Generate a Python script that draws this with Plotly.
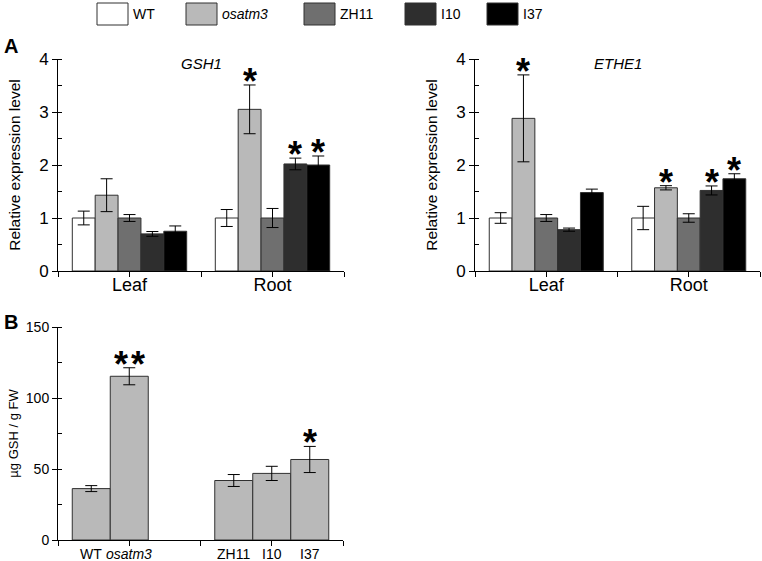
import plotly.graph_objects as go

# ---------------- data ----------------
genotypes = ["WT", "osatm3", "ZH11", "I10", "I37"]
italic_names = ["osatm3"]
colors = ["#ffffff", "#b9b9b9", "#6f6f6f", "#2e2e2e", "#000000"]
tissues = ["Leaf", "Root"]

gsh1_leaf = [1.00, 1.43, 1.00, 0.70, 0.75]
gsh1_leaf_err = [0.13, 0.31, 0.065, 0.045, 0.10]
gsh1_root = [1.00, 3.05, 1.00, 2.02, 2.00]
gsh1_root_err = [0.16, 0.46, 0.18, 0.11, 0.17]
gsh1_leaf_sig = ["", "", "", "", ""]
gsh1_root_sig = ["", "*", "", "*", "*"]

ethe1_leaf = [1.00, 2.88, 1.00, 0.78, 1.48]
ethe1_leaf_err = [0.10, 0.82, 0.065, 0.03, 0.065]
ethe1_root = [1.00, 1.57, 1.00, 1.52, 1.74]
ethe1_root_err = [0.22, 0.04, 0.08, 0.085, 0.095]
ethe1_leaf_sig = ["", "*", "", "", ""]
ethe1_root_sig = ["", "*", "", "*", "*"]

gsh_categories = ["osatm3 set", "RNAi set"]
gsh_groups = [["WT", "osatm3"], ["ZH11", "I10", "I37"]]
gsh_values = [[36.2, 115.3], [41.9, 46.9, 56.7]]
gsh_errors = [[2.1, 6.0], [4.2, 5.0, 9.2]]
gsh_sig = [["", "**"], ["", "", "*"]]

# ---------------- figure ----------------
FONT = "Liberation Sans, Arial, sans-serif"
W, H = 762, 561
BARGAP = 0.2
fig = go.Figure()
annotations = []
shapes = []


def px_x(v):
    return v / W


def px_y(v):
    return 1 - v / H


def slot_x(gi, si, n):
    w = (1 - BARGAP) / n
    return gi - (1 - BARGAP) / 2 + w * (si + 0.5)


def star(xref, yref, x, y, text):
    spaced = "\u200a".join(text)
    annotations.append(dict(x=x, y=y, xref=xref, yref=yref, text=f"<b>{spaced}</b>",
                            showarrow=False, yanchor="bottom", yshift=-19,
                            font=dict(family=FONT, size=36, color="black")))


def expr_panel(xa, ya, leaf, leaf_err, root, root_err, leaf_sig, root_sig):
    n = len(genotypes)
    for i, g in enumerate(genotypes):
        fig.add_trace(go.Bar(
            x=tissues, y=[leaf[i], root[i]], name=g, showlegend=False,
            xaxis=xa, yaxis=ya,
            marker=dict(color=colors[i], line=dict(color="#303030", width=1)),
            error_y=dict(type="data", array=[leaf_err[i], root_err[i]],
                         color="black", thickness=1, width=6)))
        for gi, (vals, errs, sig) in enumerate([(leaf, leaf_err, leaf_sig),
                                                (root, root_err, root_sig)]):
            if sig[i]:
                star(xa, ya, slot_x(gi, i, n), vals[i] + errs[i], sig[i])


expr_panel("x", "y", gsh1_leaf, gsh1_leaf_err, gsh1_root, gsh1_root_err,
           gsh1_leaf_sig, gsh1_root_sig)
expr_panel("x2", "y2", ethe1_leaf, ethe1_leaf_err, ethe1_root, ethe1_root_err,
           ethe1_leaf_sig, ethe1_root_sig)

nslot = max(len(g) for g in gsh_groups)
for k in range(nslot):
    ys = [grp[k] if k < len(grp) else None for grp in gsh_values]
    es = [grp[k] if k < len(grp) else None for grp in gsh_errors]
    fig.add_trace(go.Bar(
        x=gsh_categories, y=ys, showlegend=False, xaxis="x3", yaxis="y3",
        marker=dict(color=colors[1], line=dict(color="#303030", width=1)),
        error_y=dict(type="data", array=es, color="black", thickness=1, width=6)))
for gi, grp in enumerate(gsh_groups):
    for k, name in enumerate(grp):
        x = slot_x(gi, k, nslot)
        label = f"<i>{name}</i>" if name in italic_names else name
        annotations.append(dict(x=x, y=0, xref="x3", yref="y3", text=label,
                                showarrow=False, yanchor="top", yshift=-4,
                                font=dict(family=FONT, size=14, color="black")))
        if gsh_sig[gi][k]:
            star("x3", "y3", x, gsh_values[gi][k] + gsh_errors[gi][k], gsh_sig[gi][k])

# overlay axes only to draw ticks at category centres and boundaries
for ov, base, ya in [("x4", "x", "y"), ("x5", "x2", "y2"), ("x6", "x3", "y3")]:
    fig.add_trace(go.Scatter(x=[], y=[], xaxis=ov, yaxis=ya, showlegend=False,
                             hoverinfo="skip"))

# domains (pixel based)
dom_A1 = [px_x(58), px_x(344)]
dom_A2 = [px_x(475), px_x(760)]
dom_B = [px_x(58), px_x(343)]
ydom_A = [px_y(271), px_y(59)]
ydom_B = [px_y(540), px_y(327)]

cat_axis = dict(showline=True, linecolor="black", linewidth=1, ticks="",
                tickfont=dict(family=FONT, size=18, color="black"),
                showgrid=False, zeroline=False, fixedrange=True,
                automargin=False, ticklabelstandoff=-3)
ov_axis = dict(range=[-0.5, 1.5], tick0=-0.5, dtick=0.5, ticks="outside",
               ticklen=5, tickcolor="black", showticklabels=False,
               showline=False, showgrid=False, zeroline=False,
               automargin=False)


def yaxis(rng, dt, minor, title, tsize, titlesize, standoff):
    return dict(range=rng, dtick=dt, ticks="outside", ticklen=5,
                tickcolor="black", showline=True, linecolor="black",
                linewidth=1, showgrid=False, zeroline=False, automargin=False,
                tickfont=dict(family=FONT, size=tsize, color="black"),
                minor=dict(ticks="inside", dtick=minor, ticklen=4,
                           tickcolor="black", showgrid=False),
                title=dict(text=title, standoff=standoff,
                           font=dict(family=FONT, size=titlesize, color="black")))


fig.update_layout(
    width=W, height=H, margin=dict(l=0, r=0, t=0, b=0),
    paper_bgcolor="white", plot_bgcolor="white",
    barmode="group", bargap=BARGAP, bargroupgap=0,
    xaxis=dict(cat_axis, domain=dom_A1, anchor="y"),
    xaxis2=dict(cat_axis, domain=dom_A2, anchor="y2"),
    xaxis3=dict(cat_axis, domain=dom_B, anchor="y3", showticklabels=False),
    xaxis4=dict(ov_axis, overlaying="x", anchor="y"),
    xaxis5=dict(ov_axis, overlaying="x2", anchor="y2"),
    xaxis6=dict(ov_axis, overlaying="x3", anchor="y3"),
    yaxis=dict(yaxis([0, 4], 1, 0.5, "Relative expression level", 17, 15.5, 14),
               domain=ydom_A, anchor="x"),
    yaxis2=dict(yaxis([0, 4], 1, 0.5, "Relative expression level", 17, 15.5, 14),
                domain=ydom_A, anchor="x2"),
    yaxis3=dict(yaxis([0, 150], 50, 25, "µg GSH / g FW", 14, 13, 4),
                domain=ydom_B, anchor="x3"),
    showlegend=False,
)

# gene titles and panel letters
annotations += [
    dict(x=0.5, y=1, xref="x domain", yref="y domain", text="<i>GSH1</i>",
         showarrow=False, yanchor="middle", yshift=-4,
         font=dict(family=FONT, size=15, color="black")),
    dict(x=0.5, y=1, xref="x2 domain", yref="y2 domain", text="<i>ETHE1</i>",
         showarrow=False, yanchor="middle", yshift=-4,
         font=dict(family=FONT, size=15, color="black")),
    dict(x=px_x(2), y=px_y(46), xref="paper", yref="paper", text="<b>A</b>",
         showarrow=False, xanchor="left", yanchor="middle",
         font=dict(family=FONT, size=20, color="black")),
    dict(x=px_x(2), y=px_y(322), xref="paper", yref="paper", text="<b>B</b>",
         showarrow=False, xanchor="left", yanchor="middle",
         font=dict(family=FONT, size=20, color="black")),
]

# custom legend (large swatches)
legend_box_x = [97, 186, 304, 405, 487]
for i, g in enumerate(genotypes):
    x0 = legend_box_x[i]
    shapes.append(dict(type="rect", xref="paper", yref="paper",
                       x0=px_x(x0), x1=px_x(x0 + 31), y0=px_y(25), y1=px_y(3),
                       fillcolor=colors[i], line=dict(color="#303030", width=1)))
    label = f"<i>{g}</i>" if g in italic_names else g
    annotations.append(dict(x=px_x(x0 + 34), y=px_y(14), xref="paper",
                            yref="paper", text=label, showarrow=False,
                            xanchor="left", yanchor="middle",
                            font=dict(family=FONT, size=14, color="black")))

fig.update_layout(annotations=annotations, shapes=shapes)
fig.write_html("out.html",
               config={"displayModeBar": False},
               post_script="document.body.style.margin='0';"
                           "document.body.style.padding='0';")
